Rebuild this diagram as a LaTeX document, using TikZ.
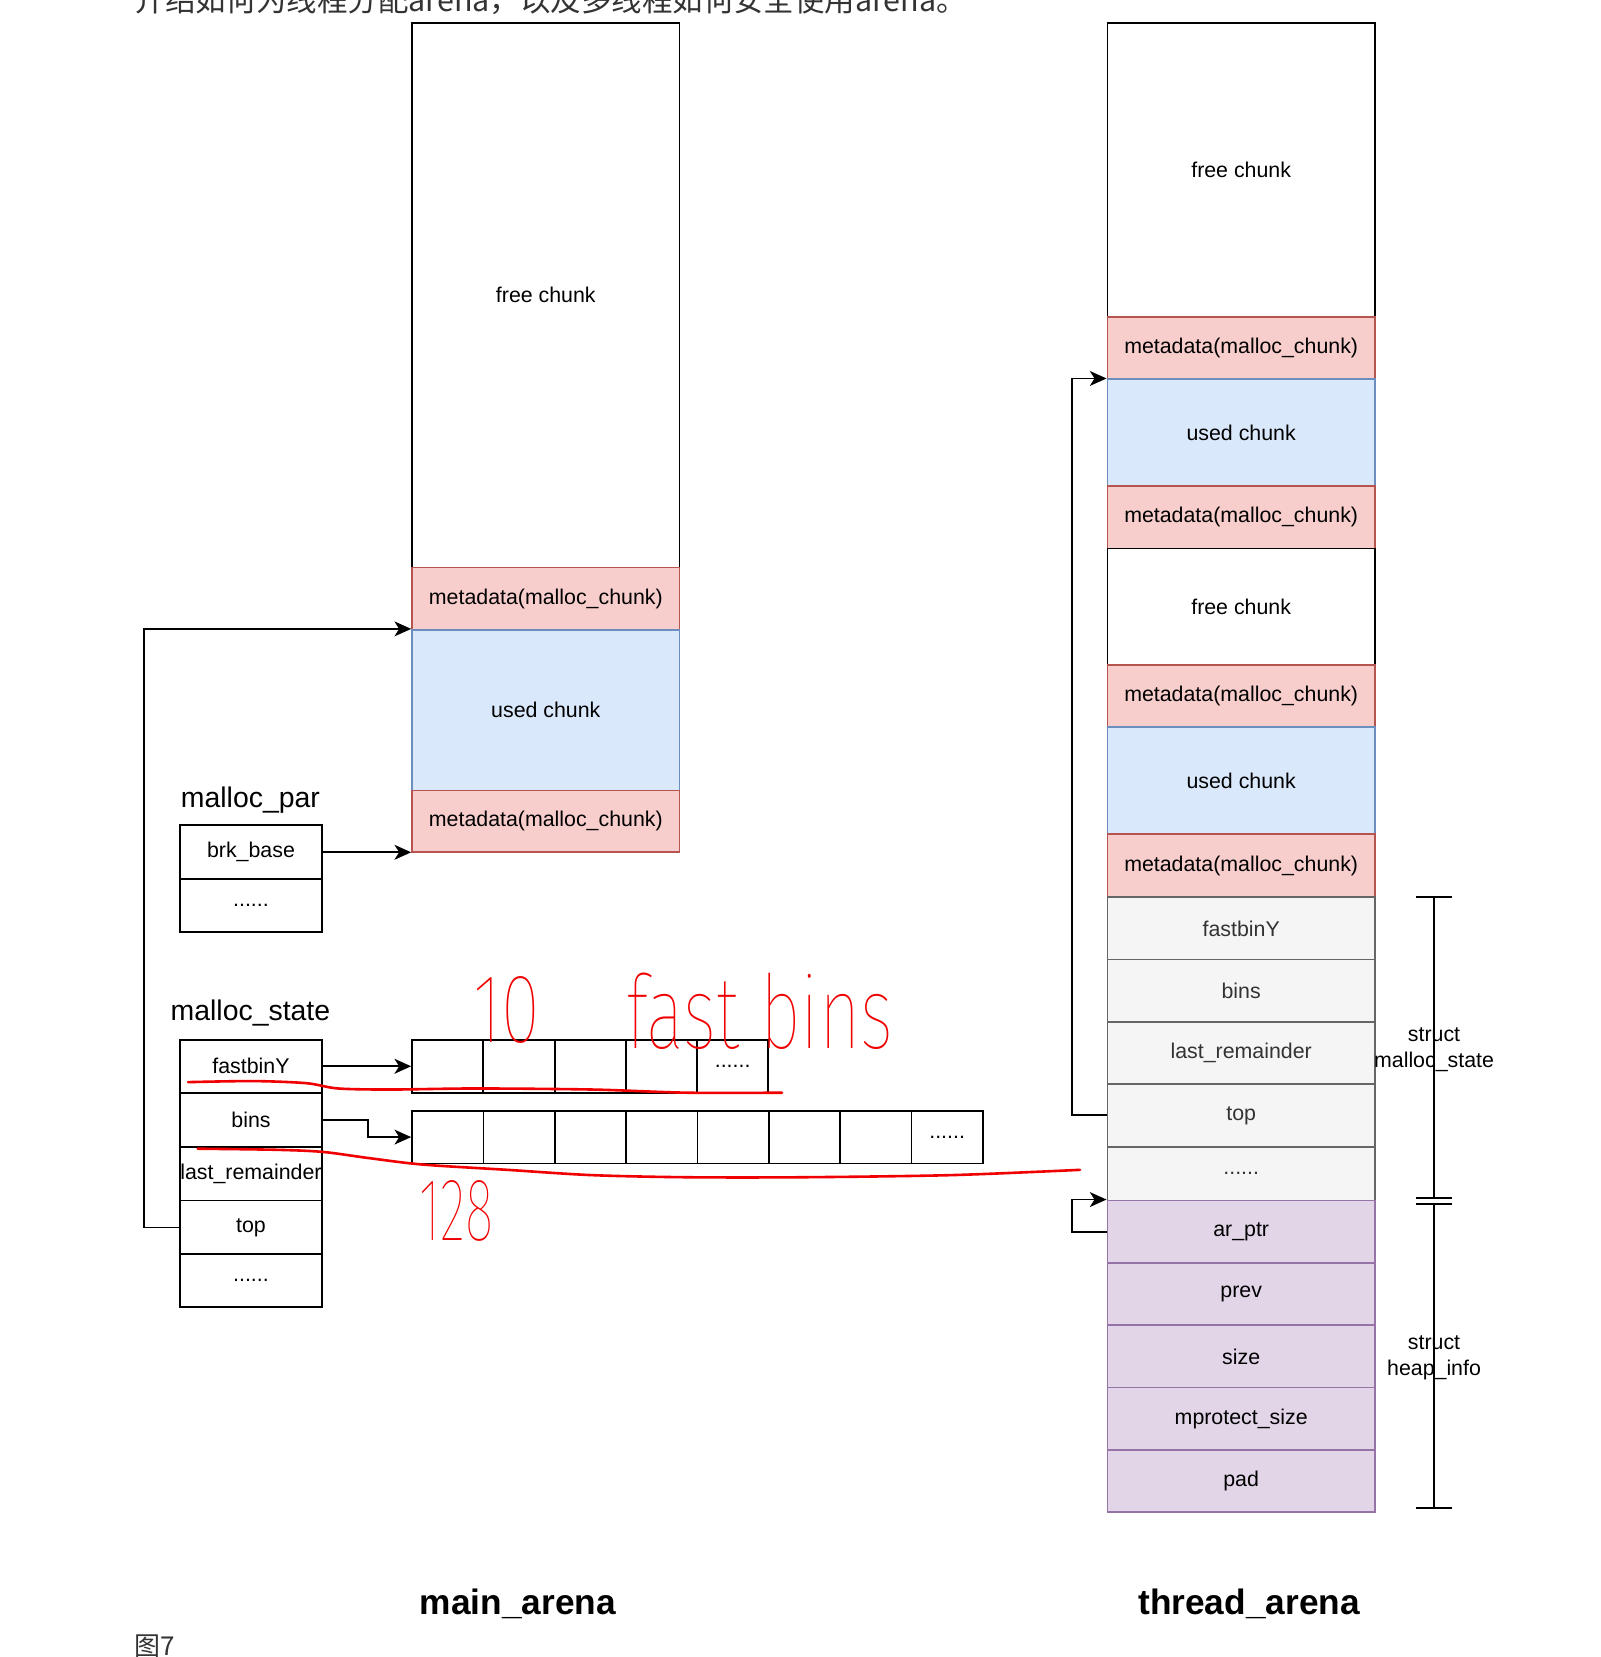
\documentclass[tikz,border=0pt]{standalone}
\usepackage{fontspec}
\usepackage{graphicx}
\setmainfont{Liberation Sans}
\newfontfamily\cjk{Noto Sans CJK SC}
\newfontfamily\handfont{Fira Sans}[UprightFont={* Thin}]
\usetikzlibrary{arrows.meta}
\definecolor{metaF}{HTML}{F8CECC}\definecolor{metaD}{HTML}{B85450}
\definecolor{usedF}{HTML}{DAE8FC}\definecolor{usedD}{HTML}{6C8EBF}
\definecolor{grayF}{HTML}{F5F5F5}\definecolor{grayD}{HTML}{666666}\definecolor{grayT}{HTML}{333333}
\definecolor{purpF}{HTML}{E1D5E7}\definecolor{purpD}{HTML}{9673A6}
\definecolor{handred}{HTML}{F00000}
\newcommand\fsbody{\fontsize{11.5pt}{14pt}\selectfont}
\newcommand\cellbox[7]{\node[#6, minimum width={(#4-#2)*0.02cm}, minimum height={(#5-#3)*0.02cm}] (#1) at ({(#2+#4)/2},{(#3+#5)/2}) {#7};}
\begin{document}
\begin{tikzpicture}[x=0.02cm,y=-0.02cm,
  cell/.style={draw, line width=1pt, inner sep=0pt, font=\fsbody, align=center},
  wbox/.style={cell, fill=white, draw=black},
  meta/.style={cell, fill=metaF, draw=metaD},
  used/.style={cell, fill=usedF, draw=usedD},
  gray/.style={cell, fill=grayF, draw=grayD, text=grayT},
  purp/.style={cell, fill=purpF, draw=purpD},
  arr/.style={line width=1pt, -{Stealth[length=9pt,width=8pt,inset=2.5pt]}},
  conn/.style={line width=1pt},
  title/.style={font=\fontsize{15.3pt}{18pt}\selectfont, inner sep=0pt},
  bigtitle/.style={font=\bfseries\fontsize{19pt}{22pt}\selectfont, inner sep=0pt},
  sidelbl/.style={font=\fsbody, align=center, inner sep=0pt},
  hand/.style={text=handred, font=\handfont\fontsize{48pt}{50pt}\selectfont, inner sep=0pt},
  redline/.style={handred, line width=1.4pt, line cap=round}
]
\useasboundingbox (0,0) rectangle (1515,1568);
\fill[white] (0,0) rectangle (1515,1568);

% cut-off header and caption
\node[anchor=base west, inner sep=0pt, text=grayT, font=\cjk\fontsize{16.4pt}{18pt}\selectfont] (header) at (127,11) {介绍如何为线程分配arena，以及多线程如何安全使用arena。};
\node[anchor=north west, inner sep=0pt, text=grayT, font=\cjk\fontsize{14pt}{16pt}\selectfont] (caption) at (127,1547) {图7};

% ---------- main arena ----------
\cellbox{mfree}{390}{22}{643}{537}{wbox}{free chunk}
\cellbox{mmetaA}{390}{537}{643}{596}{meta}{metadata(malloc\_chunk)}
\cellbox{mused}{390}{596}{643}{748}{used}{used chunk}
\cellbox{mmetaB}{390}{748}{643}{806}{meta}{metadata(malloc\_chunk)}

\node[title] (mparlbl) at (237,757) {malloc\_par};
\cellbox{brk}{170}{781}{305}{832}{wbox}{brk\_base}
\cellbox{pdots}{170}{832}{305}{882}{wbox}{......}

\node[title] (mstatelbl) at (237,959) {malloc\_state};
\cellbox{sfast}{170}{984}{305}{1034}{wbox}{fastbinY}
\cellbox{sbins}{170}{1034}{305}{1085}{wbox}{bins}
\cellbox{slast}{170}{1085}{305}{1136}{wbox}{last\_remainder}
\cellbox{stop}{170}{1136}{305}{1187}{wbox}{top}
\cellbox{sdots}{170}{1187}{305}{1237}{wbox}{......}

% fastbin array
\cellbox{fa}{390}{984}{457.4}{1034}{wbox}{}
\cellbox{fb}{457.4}{984}{524.8}{1034}{wbox}{}
\cellbox{fc}{524.8}{984}{592.2}{1034}{wbox}{}
\cellbox{fd}{592.2}{984}{659.6}{1034}{wbox}{}
\cellbox{fe}{659.6}{984}{727}{1034}{wbox}{......}
% bins array
\cellbox{ba}{390}{1051}{457.5}{1101}{wbox}{}
\cellbox{bb}{457.5}{1051}{525}{1101}{wbox}{}
\cellbox{bc}{525}{1051}{592.5}{1101}{wbox}{}
\cellbox{bd}{592.5}{1051}{660}{1101}{wbox}{}
\cellbox{be}{660}{1051}{727.5}{1101}{wbox}{}
\cellbox{bf}{727.5}{1051}{795}{1101}{wbox}{}
\cellbox{bg}{795}{1051}{862.5}{1101}{wbox}{}
\cellbox{bh}{862.5}{1051}{930}{1101}{wbox}{......}

% main arena connectors
\draw[arr] (brk.east) -- (brk.east -| mmetaB.west);
\draw[arr] (stop.west) -- ++(-33,0) |- (mused.north west);
\draw[arr] (sfast.east) -- (sfast.east -| fa.west);
\draw[arr] (sbins.east) -- ++(42,0) |- (ba.west);

% ---------- thread arena ----------
\cellbox{tfreeA}{1048}{22}{1301}{300}{wbox}{free chunk}
\cellbox{tmetaA}{1048}{300}{1301}{359}{meta}{metadata(malloc\_chunk)}
\cellbox{tusedA}{1048}{359}{1301}{460}{used}{used chunk}
\cellbox{tmetaB}{1048}{460}{1301}{519}{meta}{metadata(malloc\_chunk)}
\cellbox{tfreeB}{1048}{519}{1301}{629}{wbox}{free chunk}
\cellbox{tmetaC}{1048}{629}{1301}{688}{meta}{metadata(malloc\_chunk)}
\cellbox{tusedB}{1048}{688}{1301}{789}{used}{used chunk}
\cellbox{tmetaD}{1048}{789}{1301}{849}{meta}{metadata(malloc\_chunk)}
\cellbox{tfast}{1048}{849}{1301}{908}{gray}{fastbinY}
\cellbox{tbins}{1048}{908}{1301}{967}{gray}{bins}
\cellbox{tlast}{1048}{967}{1301}{1026}{gray}{last\_remainder}
\cellbox{ttop}{1048}{1026}{1301}{1085}{gray}{top}
\cellbox{tdots}{1048}{1085}{1301}{1136}{gray}{......}
\cellbox{tar}{1048}{1136}{1301}{1195}{purp}{ar\_ptr}
\cellbox{tprev}{1048}{1195}{1301}{1254}{purp}{prev}
\cellbox{tsize}{1048}{1254}{1301}{1313}{purp}{size}
\cellbox{tmprot}{1048}{1313}{1301}{1372}{purp}{mprotect\_size}
\cellbox{tpad}{1048}{1372}{1301}{1431}{purp}{pad}

\draw[arr] (ttop.west) -- ++(-33,0) |- (tusedA.north west);
\draw[arr] (tar.west) -- ++(-33,0) |- (tar.north west);

% brackets
\coordinate (brA1) at (1357,849);
\coordinate (brA2) at (1357,1134);
\coordinate (brB1) at (1357,1139);
\coordinate (brB2) at (1357,1427);
\draw[conn] (brA1) -- (brA2);
\draw[conn] (brB1) -- (brB2);
\draw[conn] ([xshift=-17*0.02cm]brA1) -- ([xshift=17*0.02cm]brA1);
\draw[conn] ([xshift=-17*0.02cm]brA2) -- ([xshift=17*0.02cm]brA2);
\draw[conn] ([xshift=-17*0.02cm]brB1) -- ([xshift=17*0.02cm]brB1);
\draw[conn] ([xshift=-17*0.02cm]brB2) -- ([xshift=17*0.02cm]brB2);
\node[sidelbl] (lblstate) at (1357,993) {struct\\malloc\_state};
\node[sidelbl] (lblheap) at (1357,1285) {struct\\heap\_info};

% titles
\node[bigtitle] (tmain) at (490,1518) {main\_arena};
\node[bigtitle] (tthread) at (1182,1518) {thread\_arena};

% red annotations
\draw[redline] plot[smooth] coordinates {(178,1024) (240,1023) (290,1025) (320,1030) (370,1031) (450,1030) (560,1031) (650,1034) (740,1034)};
\draw[redline] plot[smooth] coordinates {(187,1087) (260,1088) (305,1090) (350,1096) (400,1102) (480,1107) (560,1112) (650,1114) (760,1114) (900,1112) (1022,1107)};
\node[hand] (hten) at (480,956) {\scalebox{0.8}[1.1]{10}};
\node[hand] (hfast) at (719,957) {\scalebox{0.8}[1.15]{fast bins}};
\node[hand] (h128) at (432,1146) {\scalebox{0.6}[1.0]{128}};
\end{tikzpicture}
\end{document}
